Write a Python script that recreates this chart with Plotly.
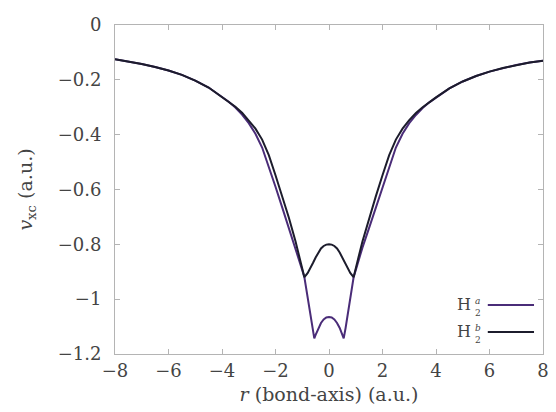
import plotly.graph_objects as go

# Exchange-correlation potential along the bond axis for two H2 configurations
r_a = [-8, -7.5, -7, -6.5, -6, -5.5, -5, -4.5, -4, -3.75, -3.5, -3.25, -3, -2.75, -2.5, -2.25, -2, -1.75, -1.5, -1.25, -1.1, -1.0, -0.92,
       -0.85, -0.78, -0.7, -0.62, -0.55, -0.5, -0.4, -0.3, -0.2, -0.1, 0,
       0.1, 0.2, 0.3, 0.4, 0.5, 0.55, 0.62, 0.7, 0.78, 0.85,
       0.92, 1.0, 1.1, 1.25, 1.5, 1.75, 2, 2.25, 2.5, 2.75, 3, 3.25, 3.5, 3.75, 4, 4.5, 5, 5.5, 6, 6.5, 7, 7.5, 8]
v_a = [-0.125, -0.133, -0.142, -0.153, -0.166, -0.182, -0.203, -0.228, -0.262, -0.28, -0.301, -0.327, -0.358, -0.397, -0.447, -0.515, -0.59, -0.665, -0.74, -0.812, -0.86, -0.894, -0.92,
       -0.962, -1.005, -1.055, -1.105, -1.143, -1.13, -1.105, -1.087, -1.074, -1.067, -1.065,
       -1.067, -1.074, -1.087, -1.105, -1.13, -1.143, -1.105, -1.055, -1.005, -0.962,
       -0.92, -0.894, -0.86, -0.812, -0.74, -0.665, -0.59, -0.515, -0.447, -0.397, -0.358, -0.328, -0.303, -0.282, -0.264, -0.231, -0.206, -0.186, -0.17, -0.157, -0.146, -0.137, -0.13]

r_b = [-8, -7.5, -7, -6.5, -6, -5.5, -5, -4.5, -4, -3.75, -3.5, -3.25, -3, -2.75, -2.5, -2.25, -2, -1.75, -1.5, -1.25, -1.1, -1.0, -0.92,
       -0.8, -0.7, -0.6, -0.5, -0.4, -0.3, -0.2, -0.1, 0, 0.1, 0.2, 0.3, 0.4, 0.5, 0.6, 0.7, 0.8,
       0.92, 1.0, 1.1, 1.25, 1.5, 1.75, 2, 2.25, 2.5, 2.75, 3, 3.25, 3.5, 3.75, 4, 4.5, 5, 5.5, 6, 6.5, 7, 7.5, 8]
v_b = [-0.125, -0.133, -0.142, -0.153, -0.166, -0.182, -0.203, -0.228, -0.262, -0.279, -0.298, -0.32, -0.347, -0.378, -0.418, -0.475, -0.548, -0.625, -0.703, -0.79, -0.848, -0.885, -0.92,
       -0.905, -0.888, -0.868, -0.848, -0.83, -0.815, -0.806, -0.801, -0.8, -0.801, -0.806, -0.815, -0.83, -0.848, -0.868, -0.888, -0.905,
       -0.92, -0.885, -0.848, -0.79, -0.703, -0.625, -0.548, -0.475, -0.418, -0.378, -0.347, -0.321, -0.3, -0.281, -0.264, -0.231, -0.206, -0.186, -0.17, -0.157, -0.146, -0.137, -0.13]

x_ticks = [-8, -6, -4, -2, 0, 2, 4, 6, 8]
y_ticks = [0, -0.2, -0.4, -0.6, -0.8, -1, -1.2]
y_tick_text = ["0", "\u22120.2", "\u22120.4", "\u22120.6", "\u22120.8", "\u22121", "\u22121.2"]
x_tick_text = [("\u2212" + str(-t)) if t < 0 else str(t) for t in x_ticks]

names = ["a", "b"]
colors = ["#4a2c78", "#1c1c2c"]

SERIF = "DejaVu Serif"
frame = "#b4b4b4"
text_col = "#444444"


def font(size):
    return dict(family=SERIF, size=size, color=text_col)


fig = go.Figure()
fig.add_trace(go.Scatter(x=r_a, y=v_a, mode="lines", line=dict(color=colors[0], width=2), showlegend=False))
fig.add_trace(go.Scatter(x=r_b, y=v_b, mode="lines", line=dict(color=colors[1], width=2), showlegend=False))

# Hand-built legend: label on the left, line sample on the right
legend_rows = [0.149, 0.067]
shapes = []
annotations = []
for name, col, yy in zip(names, colors, legend_rows):
    shapes.append(dict(type="line", xref="paper", yref="paper", x0=0.871, x1=0.979, y0=yy, y1=yy,
                       line=dict(color=col, width=2)))
    annotations.append(dict(xref="paper", yref="paper", x=0.836, y=yy, xanchor="right", yanchor="middle",
                            text="H", showarrow=False, font=font(16)))
    annotations.append(dict(xref="paper", yref="paper", x=0.837, y=yy - 0.005, xanchor="left", yanchor="middle",
                            text="<i>%s</i><br>2" % name, showarrow=False, align="left",
                            font=font(9)))

fig.update_layout(
    width=556, height=412, margin=dict(l=115, r=7, t=25, b=58),
    paper_bgcolor="white", plot_bgcolor="white",
    font=font(18),
    xaxis=dict(range=[-8, 8], tickmode="array", tickvals=x_ticks, ticktext=x_tick_text,
               showgrid=False, zeroline=False, showline=True, linecolor=frame, linewidth=1,
               mirror="ticks", ticks="inside", ticklen=5, tickcolor=frame,
               tickfont=font(18),
               title=dict(text="<i>r</i> (bond-axis) (a.u.)", font=font(19), standoff=8)),
    yaxis=dict(range=[-1.2, 0], tickmode="array", tickvals=y_ticks, ticktext=y_tick_text,
               showgrid=False, zeroline=False, showline=True, linecolor=frame, linewidth=1,
               mirror="ticks", ticks="inside", ticklen=5, tickcolor=frame,
               tickfont=font(18), ticklabelstandoff=9,
               title=dict(text="<i>v</i><sub>xc</sub> (a.u.)", font=font(19), standoff=20)),
    shapes=shapes, annotations=annotations,
)

fig.write_html("out.html")
